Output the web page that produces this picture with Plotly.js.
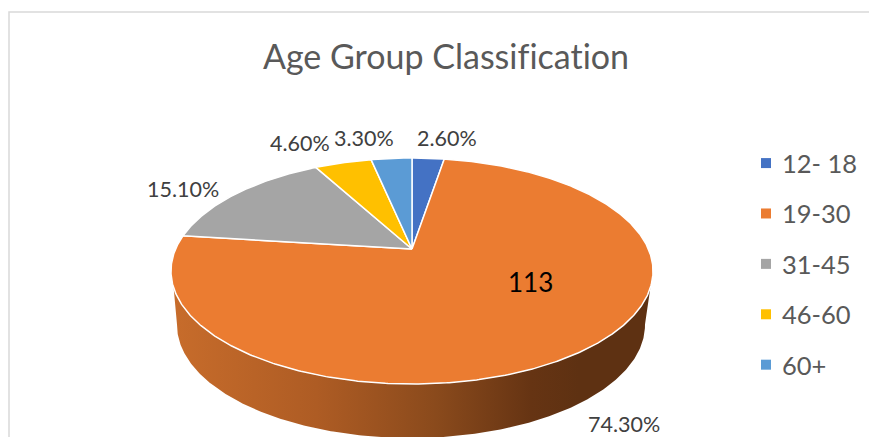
<!DOCTYPE html>
<html>
<head>
<meta charset="utf-8">
<script src="https://cdn.plot.ly/plotly-3.0.1.min.js"></script>
<style>html,body{margin:0;padding:0;background:#fff;overflow:hidden}#chart{width:869px;height:437px}svg text{font-variant-ligatures:none !important;font-feature-settings:"liga" 0,"clig" 0,"dlig" 0 !important}</style>
</head>
<body>
<div id="chart"></div>
<script>
// ---- data ----
const categories = ['12- 18', '19-30', '31-45', '46-60', '60+'];
const sharePercent = [2.6, 74.3, 15.1, 4.6, 3.3];
const sliceColors = ['#4472C4', '#EB7C31', '#A5A5A5', '#FFC000', '#5B9BD5'];
const countLabelValue = 113;

// ---- perspective disc: maps a pie angle onto the tilted top or bottom face ----
const total = sharePercent.reduce((a, b) => a + b, 0);
const tilt = 0.195;
function project(deg, face) {
  const r = deg * Math.PI / 180, t = Math.cos(r), s = Math.sin(r), d = 1 + tilt * t;
  return {
    x: face.cx + face.a * s / d,
    y: face.cy - face.b * t / d
  };
}
const topFace = {cx: 412, cy: 249, a: 236.4, b: 108.7};
const baseFace = {cx: 411, cy: 303, a: 229.5, b: 108.7};

function arc(from, to, face) {
  const n = Math.max(2, Math.ceil(Math.abs(to - from) / 0.5));
  const xs = [], ys = [];
  for (let i = 0; i <= n; i++) {
    const p = project(from + (to - from) * i / n, face);
    xs.push(p.x); ys.push(p.y);
  }
  return {xs, ys};
}

const traces = [];

// side wall of the large slice
const upper = arc(109.5, 250.5, topFace);
const lower = arc(259, 101, baseFace);
traces.push({
  type: 'scatter', mode: 'lines', showlegend: false, hoverinfo: 'skip',
  x: upper.xs.concat(lower.xs, [upper.xs[0]]),
  y: upper.ys.concat(lower.ys, [upper.ys[0]]),
  fill: 'toself',
  line: {width: 0, color: 'rgba(0,0,0,0)'},
  fillgradient: {
    type: 'horizontal',
    colorscale: [[0, '#C76C2B'], [0.3, '#AE5C24'], [0.55, '#8A4A1C'], [0.75, '#663413'], [0.85, '#5E3112'], [1, '#5E3112']]
  }
});

// top-face slices
let start = 0;
sharePercent.forEach((v, i) => {
  const sweep = 360 * v / total;
  const edge = arc(start, start + sweep, topFace);
  const c = {x: topFace.cx, y: topFace.cy};
  traces.push({
    type: 'scatter', mode: 'lines', showlegend: false,
    name: categories[i], text: v.toFixed(1) + '%', hoverinfo: 'name+text',
    x: [c.x].concat(edge.xs, [c.x]),
    y: [c.y].concat(edge.ys, [c.y]),
    fill: 'toself', fillcolor: sliceColors[i],
    line: {color: '#FFFFFF', width: 1.5}
  });
  start += sweep;
});

// legend entries
categories.forEach((name, i) => {
  traces.push({
    type: 'scatter', mode: 'markers', name, legendgroup: name,
    x: [null], y: [null],
    marker: {symbol: 'square', size: 10, color: sliceColors[i]}
  });
});

const labelFont = {family: 'Lato, Carlito, sans-serif', size: 21.5, color: '#404040'};
const labelAt = [[447, 138], [623.5, 424], [182.5, 189], [300, 143], [364, 138]];
const annotations = sharePercent.map((v, i) => ({
  xref: 'x', yref: 'y', x: labelAt[i][0], y: labelAt[i][1],
  text: v.toFixed(2) + '%', showarrow: false, font: labelFont,
  xanchor: 'center', yanchor: 'middle'
}));
annotations.push({
  xref: 'x', yref: 'y', x: 530, y: 282, text: String(countLabelValue), showarrow: false,
  font: {family: 'Lato, Carlito, sans-serif', size: 26, color: '#000000'},
  xanchor: 'center', yanchor: 'middle'
});

const layout = {
  width: 869, height: 437,
  margin: {l: 0, r: 0, t: 0, b: 0},
  paper_bgcolor: '#FFFFFF', plot_bgcolor: '#FFFFFF',
  title: {
    text: 'Age Group Classification',
    x: 446 / 869, xanchor: 'center', xref: 'paper',
    y: 1 - 57 / 437, yanchor: 'middle', yref: 'paper',
    font: {family: 'Lato, Carlito, sans-serif', size: 34, color: '#595959'}
  },
  xaxis: {range: [0, 869], visible: false, fixedrange: true},
  yaxis: {range: [437, 0], visible: false, fixedrange: true},
  showlegend: true,
  legend: {
    x: 742 / 869, xanchor: 'left', y: 1 - 140 / 437, yanchor: 'top',
    font: {family: 'Lato, Carlito, sans-serif', size: 25.5, color: '#595959'},
    tracegroupgap: 14.25, bgcolor: 'rgba(0,0,0,0)', traceorder: 'grouped'
  },
  shapes: [{
    type: 'rect', xref: 'x', yref: 'y', x0: 9, y0: 12, x1: 900, y1: 470,
    line: {color: '#D9D9D9', width: 1.5}, fillcolor: 'rgba(0,0,0,0)', layer: 'below'
  }],
  annotations
};

Plotly.newPlot('chart', traces, layout, {displayModeBar: false}).then(gd => {
  gd.querySelectorAll('.legendsymbols').forEach(el => el.setAttribute('transform', 'translate(4,0)'));
});
</script>
</body>
</html>
